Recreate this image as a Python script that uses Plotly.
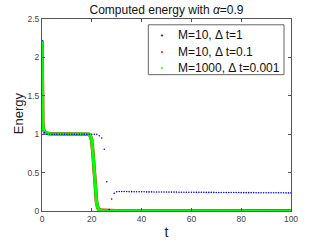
import plotly.graph_objects as go

# M=10, dt=1 (one value per t = 0..100)
t_blue = list(range(0, 101))
e_blue = [2.22, 1.02] + [1.0] * 17 + [
    1.0, 1.0, 1.0, 1.0, 0.98, 0.95, 0.805, 0.38, 0.02, 0.155, 0.23, 0.25,
    0.254, 0.254, 0.254, 0.253, 0.252, 0.252, 0.251, 0.251, 0.250, 0.250,
    0.250, 0.249, 0.249, 0.249, 0.248, 0.248, 0.248, 0.247, 0.247, 0.247,
    0.246, 0.246, 0.246, 0.246, 0.245, 0.245, 0.245, 0.244, 0.244, 0.244,
    0.244, 0.243, 0.243, 0.243, 0.243, 0.242, 0.242, 0.242, 0.242, 0.241,
    0.241, 0.241, 0.241, 0.241, 0.240, 0.240, 0.240, 0.240, 0.240, 0.239,
    0.239, 0.239, 0.239, 0.239, 0.239, 0.238, 0.238, 0.238, 0.238, 0.238,
    0.238, 0.237, 0.237, 0.237, 0.237, 0.237, 0.237, 0.236, 0.236, 0.236]

# M=10, dt=0.1 (read at key times)
t_red = [0, 0.05, 0.15, 0.3, 0.6, 1.2, 3, 10, 18.7, 19.4, 19.9, 20.4, 20.9, 21.4, 21.9, 22.4, 23, 24, 30, 100]
e_red = [2.22, 1.8, 1.4, 1.15, 1.06, 1.02, 1.005, 1.0, 1.0, 0.98, 0.93, 0.78, 0.55, 0.3, 0.12, 0.04, 0.015, 0.008, 0.004, 0.002]

# M=1000, dt=0.001 (read at key times)
t_green = [0, 0.05, 0.15, 0.3, 0.6, 1.2, 3, 10, 18.7, 19.4, 19.9, 20.4, 20.9, 21.4, 21.9, 22.4, 23.0, 24, 30, 100]
e_green = [2.22, 1.8, 1.4, 1.15, 1.06, 1.02, 1.005, 1.0, 1.0, 0.98, 0.93, 0.78, 0.55, 0.3, 0.12, 0.04, 0.012, 0.005, 0.002, 0.0]

names = ["M=10, Δ t=1", "M=10, Δ t=0.1", "M=1000, Δ t=0.001"]
colors = ["#0000FF", "#FF0000", "#00FF00"]

x_ticks = [0, 20, 40, 60, 80, 100]
y_ticks = [0, 0.5, 1, 1.5, 2, 2.5]
y_labels = ["0", "0.5", "1", "1.5", "2", "2.5"]

W, H = 321, 241
ML, MR, MT, MB = 42, 30, 18.5, 30
PW, PH = W - ML - MR, H - MT - MB


def px_x(p):
    return (p - ML) / PW


def px_y(p):
    return (H - MB - p) / PH


fig = go.Figure()
fig.add_trace(go.Scatter(x=t_red, y=e_red, mode="lines", line=dict(color=colors[1], width=3.6),
                         name=names[1], showlegend=False, hoverinfo="skip"))
fig.add_trace(go.Scatter(x=t_green, y=e_green, mode="lines", line=dict(color=colors[2], width=3.2),
                         name=names[2], showlegend=False, hoverinfo="skip"))
fig.add_trace(go.Scatter(x=t_blue, y=e_blue, mode="markers", marker=dict(color=colors[0], size=1.6),
                         name=names[0], showlegend=False))

# legend drawn as box + dots + text (MATLAB-style compact spacing)
shapes = [dict(type="rect", xref="paper", yref="paper",
               x0=px_x(148.3), x1=px_x(284), y0=px_y(74.3), y1=px_y(24.3),
               line=dict(color="#666666", width=1), fillcolor="white", layer="above")]
annotations = []
row_y = [35, 51.7, 67.7]
for n, c, ry in zip(names, colors, row_y):
    shapes.append(dict(type="circle", xref="paper", yref="paper",
                       x0=px_x(161.2), x1=px_x(162.8), y0=px_y(ry + 0.8), y1=px_y(ry - 0.8),
                       line=dict(color=c, width=0.5), fillcolor=c, layer="above"))
    annotations.append(dict(text=n, xref="paper", yref="paper", x=px_x(175.5), y=px_y(ry),
                            xanchor="left", yanchor="middle", showarrow=False,
                            font=dict(size=12, color="#111111")))
# y-axis title
annotations.append(dict(text="Energy", xref="paper", yref="paper", x=px_x(18.5), y=px_y(113.5),
                        xanchor="center", yanchor="middle", textangle=-90, showarrow=False,
                        font=dict(size=13, color="#222222")))

axis_common = dict(showline=True, linecolor="#555555", linewidth=1, mirror="ticks",
                   ticks="inside", ticklen=3, tickcolor="#555555", showgrid=False,
                   zeroline=False, automargin=False,
                   tickfont=dict(size=8.5, color="#444444", family="Liberation Sans, Arial, sans-serif"))
fig.update_layout(
    width=W, height=H,
    margin=dict(l=ML, r=MR, t=MT, b=MB, autoexpand=False),
    paper_bgcolor="white", plot_bgcolor="white",
    font=dict(family="Liberation Sans, Arial, sans-serif", color="#000000"),
    title=dict(text="Computed energy with <i>α</i>=0.9", x=0.5, xref="paper", xanchor="center",
               y=0.958, yanchor="middle", font=dict(size=12, color="#111111")),
    xaxis=dict(range=[0, 100], tickvals=x_ticks, **axis_common,
               title=dict(text="t", font=dict(size=14, color="#222222"), standoff=3)),
    yaxis=dict(range=[0, 2.5], tickvals=y_ticks, ticktext=y_labels, **axis_common),
    shapes=shapes,
    annotations=annotations,
    showlegend=False,
)
fig.write_html("out.html", config={"displayModeBar": False},
               post_script="document.body.style.margin='0';document.body.style.padding='0';")
